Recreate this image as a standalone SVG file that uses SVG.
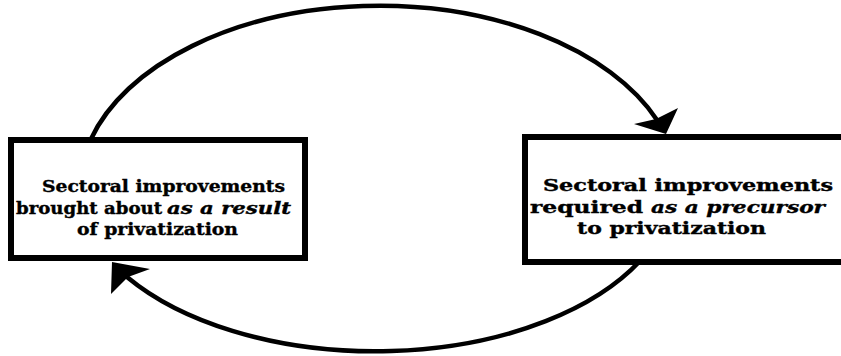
<svg xmlns="http://www.w3.org/2000/svg" width="841" height="356" viewBox="0 0 841 356">
<style>
.box{fill:#fff;stroke:#000;stroke-width:6}
.arc{fill:none;stroke:#000;stroke-width:4.5}
.head{fill:#000;stroke:none}
text{font-family:"DejaVu Serif","Liberation Serif",serif;font-weight:bold;font-size:17.5px;fill:#000;stroke:#000;stroke-width:0.4}
.it{font-style:italic}
</style>
<rect width="841" height="356" fill="#fff"/>
<g id="connectors">
<path class="arc" d="M 91 139 A 300 184 0 0 1 657 120"/>
<polygon class="head" points="666,134 634,124 656,119 678,108"/>
<path class="arc" d="M 640 261 A 300 170 0 0 1 127 277"/>
<polygon class="head" points="112,262 150,269 128,277 111,294"/>
</g>
<g id="node-result">
<rect class="box" x="11" y="140" width="294" height="118"/>
<text><tspan x="42" y="192" textLength="243" lengthAdjust="spacingAndGlyphs">Sectoral improvements</tspan></text>
<text><tspan x="16" y="214" textLength="146" lengthAdjust="spacingAndGlyphs">brought about</tspan><tspan class="it" x="167" y="214" textLength="124" lengthAdjust="spacingAndGlyphs">as a result</tspan></text>
<text><tspan x="77" y="235" textLength="161" lengthAdjust="spacingAndGlyphs">of privatization</tspan></text>
</g>
<g id="node-precursor">
<rect class="box" x="525" y="137" width="340" height="125"/>
<text><tspan x="543" y="191" textLength="290" lengthAdjust="spacingAndGlyphs">Sectoral improvements</tspan></text>
<text><tspan x="530" y="213" textLength="113" lengthAdjust="spacingAndGlyphs">required</tspan><tspan class="it" x="651" y="213" textLength="174" lengthAdjust="spacingAndGlyphs">as a precursor</tspan></text>
<text><tspan x="577" y="234" textLength="189" lengthAdjust="spacingAndGlyphs">to privatization</tspan></text>
</g>
</svg>
